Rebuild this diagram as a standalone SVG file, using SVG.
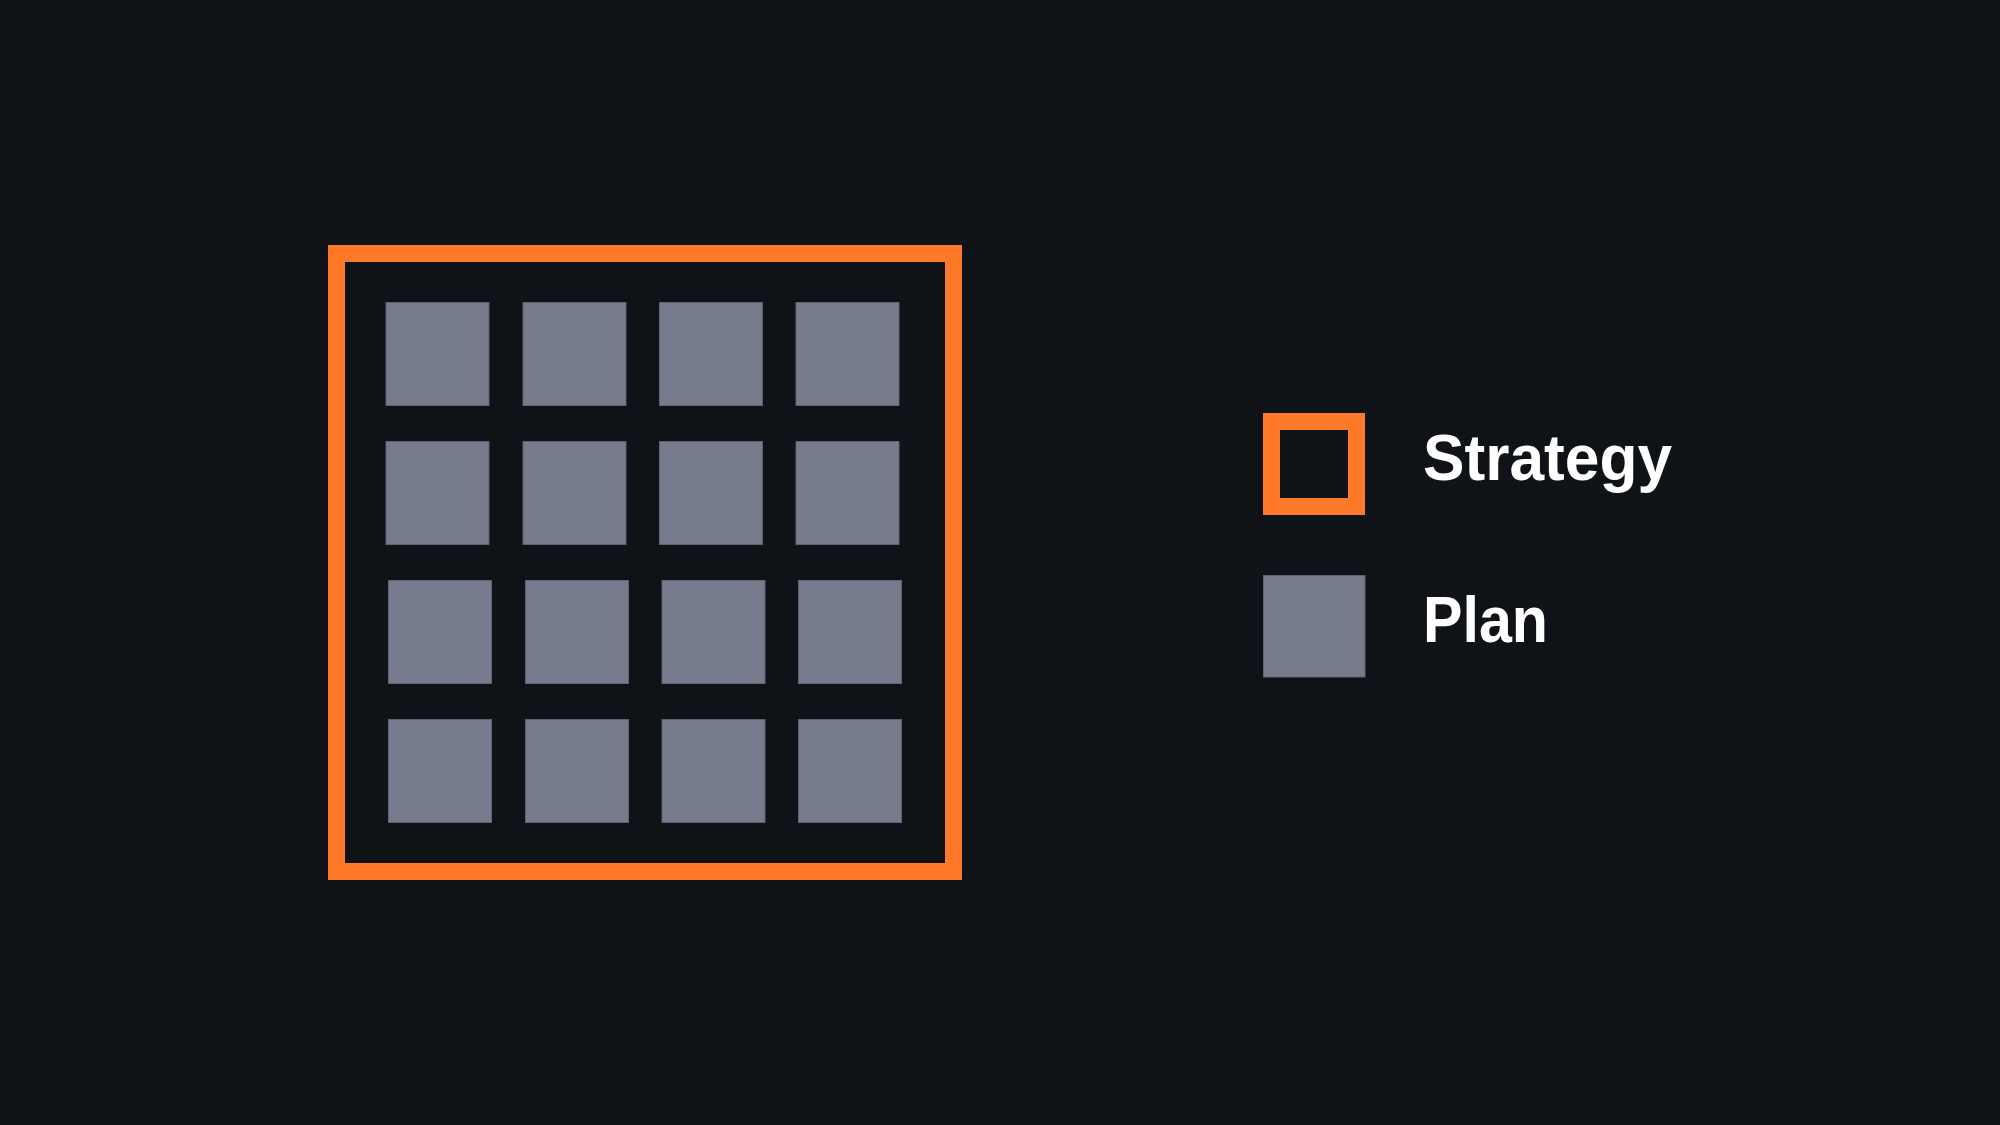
<svg xmlns="http://www.w3.org/2000/svg" width="2000" height="1125" viewBox="0 0 2000 1125">
<style>
.bg{fill:#0f1217}
.frame{fill:none;stroke:#ff7a28;stroke-width:17}
.plan{fill:#767c8e;stroke:#5d6373;stroke-width:1}
.label{font-family:"Liberation Sans","DejaVu Sans",sans-serif;font-weight:bold;font-size:64px;fill:#ffffff}
</style>
<rect class="bg" x="0" y="0" width="2000" height="1125"/>
<g id="strategy-frame">
<rect class="frame" x="336.5" y="253.5" width="617" height="618"/>
</g>
<g id="plans">
<g id="row1">
<rect class="plan" x="386" y="302.5" width="103" height="103"/>
<rect class="plan" x="523" y="302.5" width="103" height="103"/>
<rect class="plan" x="659.5" y="302.5" width="103" height="103"/>
<rect class="plan" x="796" y="302.5" width="103" height="103"/>
</g>
<g id="row2">
<rect class="plan" x="386" y="441.5" width="103" height="103"/>
<rect class="plan" x="523" y="441.5" width="103" height="103"/>
<rect class="plan" x="659.5" y="441.5" width="103" height="103"/>
<rect class="plan" x="796" y="441.5" width="103" height="103"/>
</g>
<g id="row3">
<rect class="plan" x="388.5" y="580.5" width="103" height="103"/>
<rect class="plan" x="525.5" y="580.5" width="103" height="103"/>
<rect class="plan" x="662" y="580.5" width="103" height="103"/>
<rect class="plan" x="798.5" y="580.5" width="103" height="103"/>
</g>
<g id="row4">
<rect class="plan" x="388.5" y="719.5" width="103" height="103"/>
<rect class="plan" x="525.5" y="719.5" width="103" height="103"/>
<rect class="plan" x="662" y="719.5" width="103" height="103"/>
<rect class="plan" x="798.5" y="719.5" width="103" height="103"/>
</g>
</g>
<g id="legend-strategy">
<rect class="frame" x="1271.5" y="421.5" width="85" height="85"/>
<text class="label" x="1423" y="480" textLength="249" lengthAdjust="spacingAndGlyphs">Strategy</text>
</g>
<g id="legend-plan">
<rect class="plan" x="1263.5" y="575.5" width="101.5" height="101.5"/>
<text class="label" x="1423" y="642" textLength="125" lengthAdjust="spacingAndGlyphs">Plan</text>
</g>
</svg>
